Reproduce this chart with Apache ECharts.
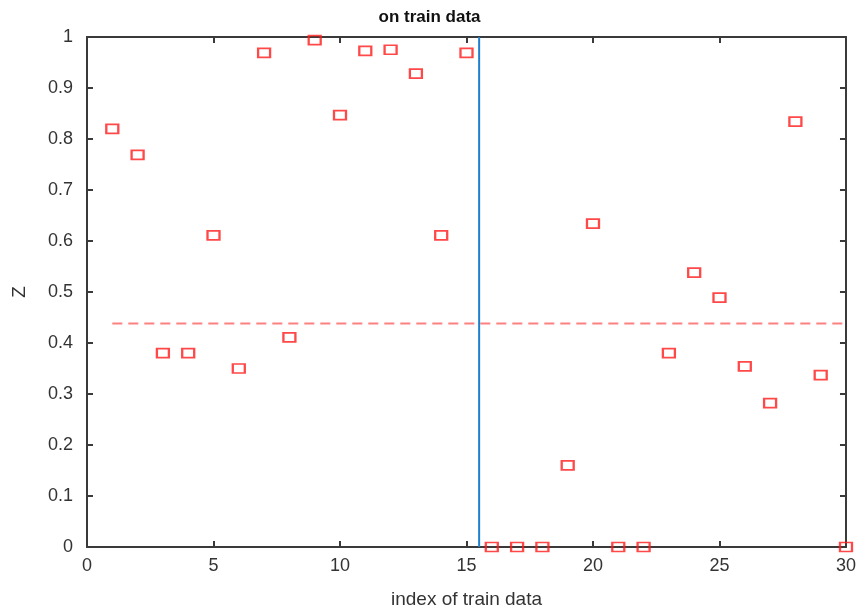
<!DOCTYPE html>
<html>
<head>
<meta charset="utf-8">
<script src="https://cdn.jsdelivr.net/npm/echarts@6/dist/echarts.min.js"></script>
<style>html,body{margin:0;padding:0;background:#fff;}#c{width:859px;height:614px;}</style>
</head>
<body>
<div id="c"></div>
<script>
const indices = [1,2,3,4,5,6,7,8,9,10,11,12,13,14,15,16,17,18,19,20,21,22,23,24,25,26,27,28,29,30];
const zValues = [0.820,0.769,0.380,0.380,0.611,0.350,0.969,0.411,0.994,0.847,0.973,0.975,0.928,0.611,0.969,0,0,0,0.160,0.634,0,0,0.380,0.538,0.489,0.354,0.282,0.834,0.337,0];
const thresholdX = [1, 30];
const thresholdY = 0.438;
const splitX = 15.5;
const yRange = [0, 1];

const chart = echarts.init(document.getElementById('c'));
const axisLine = {show:true, onZero:false, lineStyle:{color:'#3a3a3a', width:2}};
const tickIn = {show:true, inside:true, length:6, lineStyle:{color:'#3a3a3a', width:2}};
const font = 'Liberation Sans, Arial, sans-serif';
const labelStyle = {color:'#333', fontSize:18, fontFamily:font};
chart.setOption({
  animation:false,
  title:{text:'on train data', left:'center', top:4, textStyle:{fontSize:17, fontWeight:'bold', color:'#111', fontFamily:font}},
  grid:{left:87, right:13, top:37, bottom:66},
  xAxis:[
    {type:'value', min:0, max:30, interval:5, position:'bottom', axisLine, axisTick:tickIn, splitLine:{show:false},
     axisLabel:Object.assign({margin:10}, labelStyle),
     name:'index of train data', nameLocation:'middle', nameGap:43, nameTextStyle:{color:'#333', fontSize:19, fontFamily:font}},
    {type:'value', min:0, max:30, interval:5, position:'top', axisLine, axisTick:tickIn, axisLabel:{show:false}, splitLine:{show:false}}
  ],
  yAxis:[
    {type:'value', min:0, max:1, interval:0.1, position:'left', axisLine, axisTick:tickIn, splitLine:{show:false},
     axisLabel:Object.assign({margin:14, formatter:v=>String(Math.round(v*10)/10)}, labelStyle),
     name:'Z', nameLocation:'middle', nameGap:58, nameTextStyle:{color:'#333', fontSize:19, fontFamily:font}},
    {type:'value', min:0, max:1, interval:0.1, position:'right', axisLine, axisTick:tickIn, axisLabel:{show:false}, splitLine:{show:false}}
  ],
  series:[
    {type:'line', data:thresholdX.map(x=>[x, thresholdY]), symbol:'none', lineStyle:{color:'#ff8080', width:2, type:[10,6]}, z:2},
    {type:'line', data:yRange.map(y=>[splitX, y]), symbol:'none', lineStyle:{color:'#1f7fcf', width:2}, z:3},
    {type:'scatter', data:indices.map((x,i)=>[x, zValues[i]]), symbol:'rect', symbolSize:[12,9], clip:false,
     itemStyle:{color:'rgba(255,255,255,0)', borderColor:'#ff1a1a', borderWidth:2}, z:5}
  ]
});
</script>
</body>
</html>
